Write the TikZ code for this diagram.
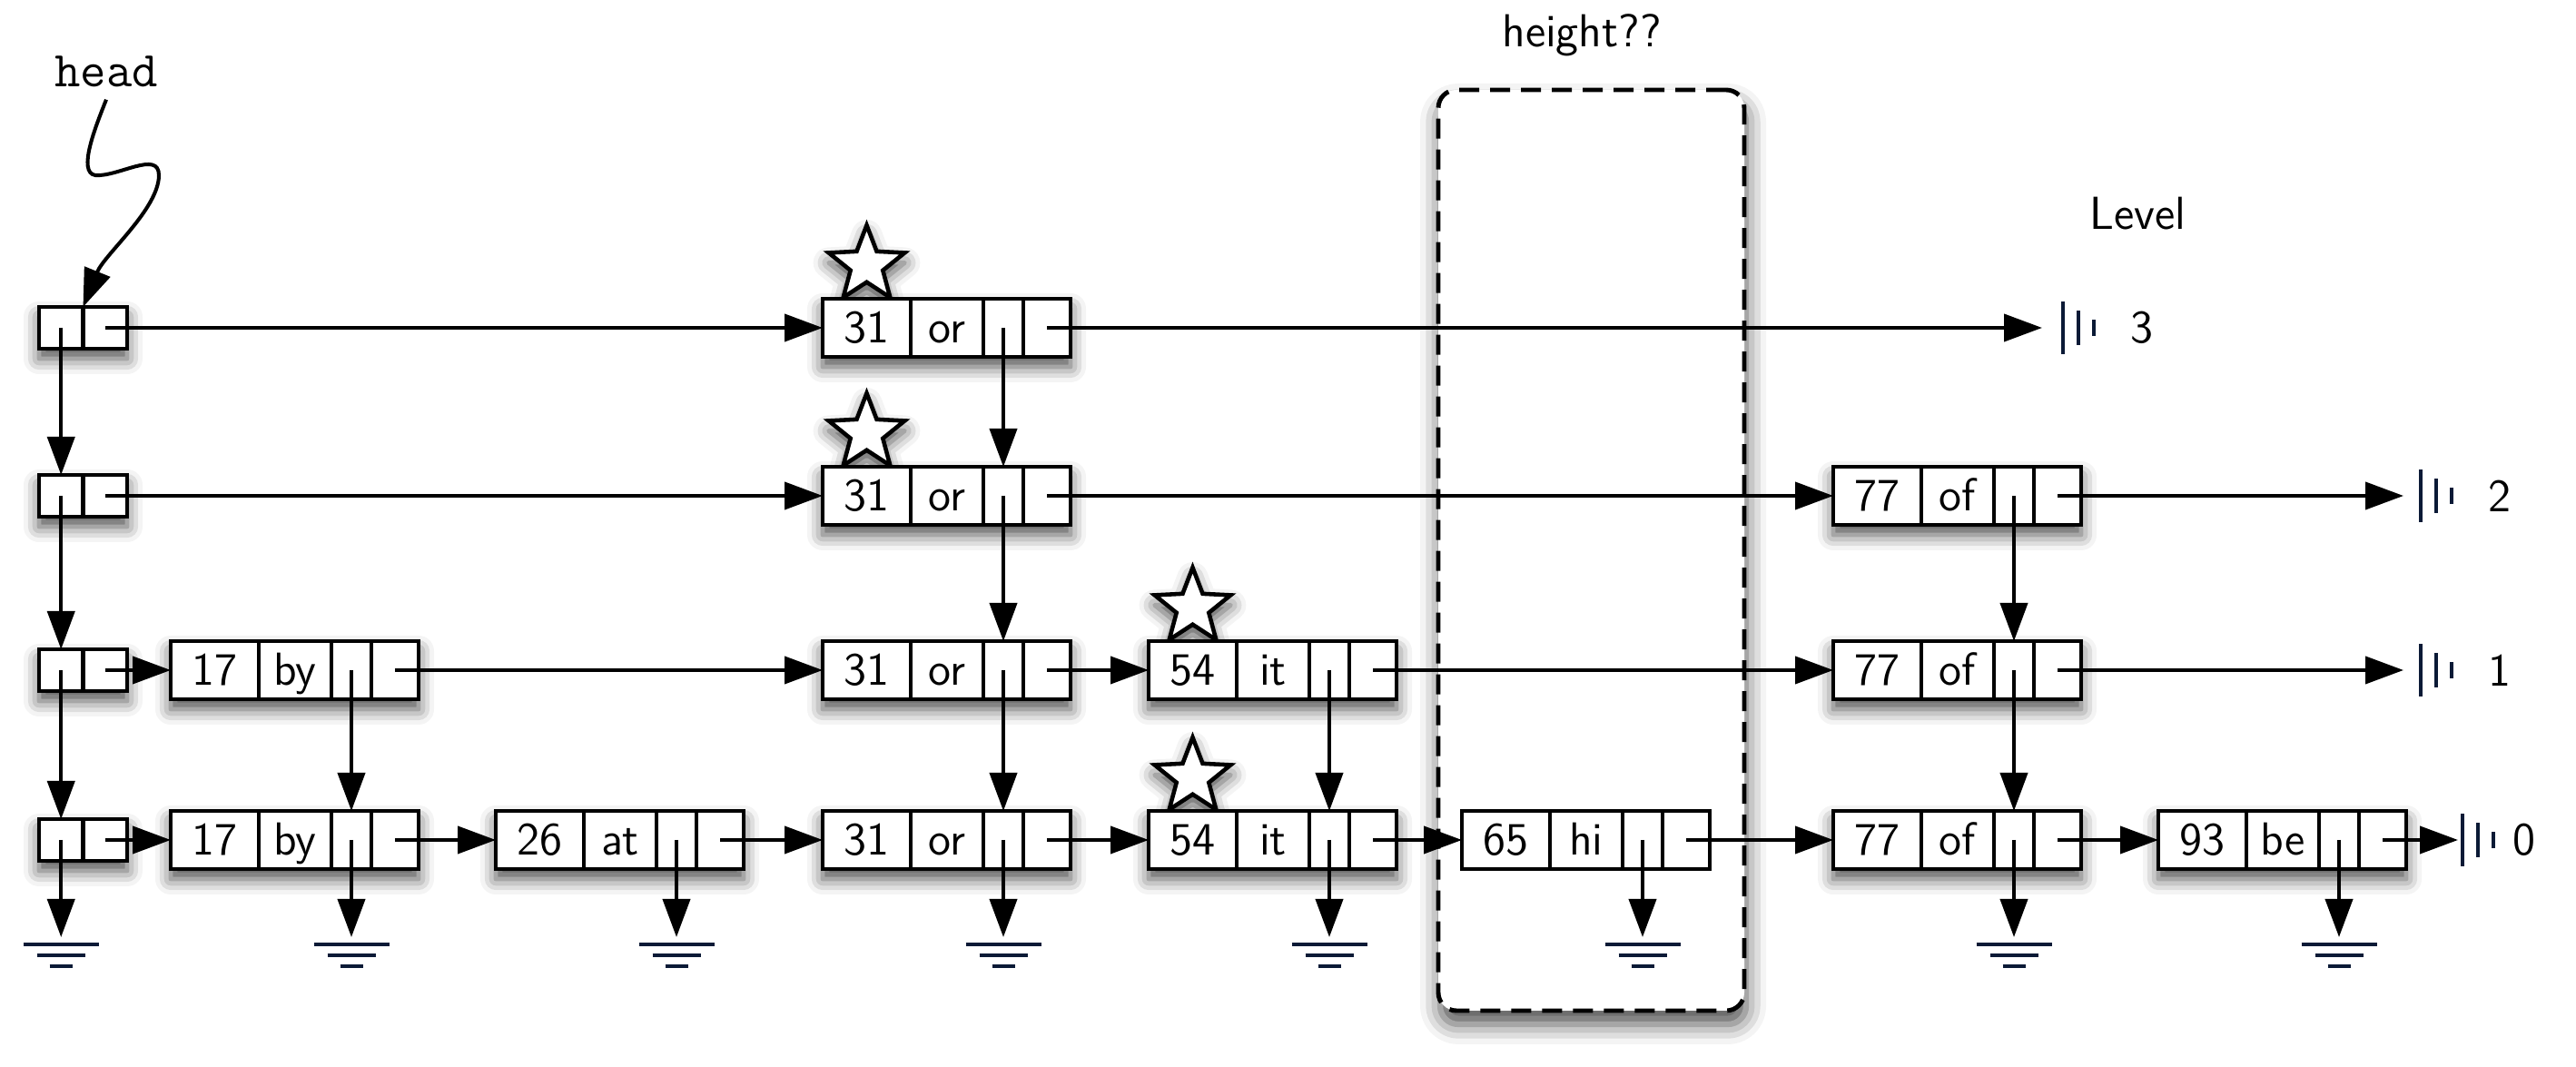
\documentclass[tikz,border=0pt]{standalone}
\usepackage{fontspec}
\usetikzlibrary{positioning, shapes.geometric, arrows.meta, shadows.blur}

\definecolor{groundblue}{HTML}{0B1A36}

\tikzset{
  every picture/.style={line width=1.15pt},
  shadowed/.style={blur shadow={shadow xshift=0cm, shadow yshift=-0.11cm, shadow blur radius=0.17cm, shadow opacity=70}},
  cell/.style={draw, fill=white, inner sep=0pt, outer sep=0pt, minimum height=0.64cm,
    text height=0.33cm, text depth=0pt, font=\fontsize{14.5}{16}\sffamily},
  keycell/.style={cell, minimum width=0.97cm},
  wordcell/.style={cell, minimum width=0.80cm},
  downcell/.style={cell, minimum width=0.44cm},
  nextcell/.style={cell, minimum width=0.52cm},
  headcell/.style={cell, minimum width=0.485cm, minimum height=0.46cm},
  recbox/.style={fill=white, inner sep=0pt, outer sep=0pt, minimum width=2.73cm, minimum height=0.64cm},
  headbox/.style={recbox, minimum width=0.97cm, minimum height=0.46cm},
  starmark/.style={star, star points=5, star point ratio=2.35, minimum size=0.88cm, inner sep=0pt,
    draw, line width=1.3pt, fill=white, shadowed},
  hbox/.style={draw, fill=white, rounded corners=0.2cm, line width=1.4pt, dash pattern=on 0.22cm off 0.12cm,
    minimum width=3.37cm, minimum height=10.14cm,
    blur shadow={shadow xshift=0.02cm, shadow yshift=-0.15cm, shadow blur radius=0.22cm, shadow opacity=70}},
  link/.style={-{Triangle[length=0.42cm,width=0.30cm]}},
  groundline/.style={draw=groundblue, line width=1.2pt},
  labeltext/.style={font=\fontsize{14.5}{16}\sffamily},
  headtext/.style={font=\fontsize{15.7}{18}\ttfamily}
}

% record: name, left x, y, key, word
\newcommand{\record}[6][shadowed]{%
  \node[recbox, #1, anchor=west] (#2) at (#3,#4) {};
  \node[keycell, anchor=west] (#2k) at (#2.west) {#5};
  \node[wordcell, right=0pt of #2k] (#2w) {#6};
  \node[downcell, right=0pt of #2w] (#2d) {};
  \node[nextcell, right=0pt of #2d] (#2r) {};
}
% head cell pair: name, y
\newcommand{\headnode}[2]{%
  \node[headbox, shadowed, anchor=west] (#1) at (0.43,#2) {};
  \node[headcell, anchor=west] (#1d) at (#1.west) {};
  \node[headcell, right=0pt of #1d] (#1r) {};
}
% end of a level: name, tip x, bar x, y, label, label x
\newcommand{\nilmark}[6]{%
  \coordinate (#1tip) at (#2,#4);
  \coordinate (#1) at (#3,#4);
  \draw[groundline] ([yshift=-0.29cm]#1) -- ([yshift=0.29cm]#1);
  \draw[groundline] ([xshift=0.17cm,yshift=-0.19cm]#1) -- ([xshift=0.17cm,yshift=0.19cm]#1);
  \draw[groundline] ([xshift=0.34cm,yshift=-0.09cm]#1) -- ([xshift=0.34cm,yshift=0.09cm]#1);
  \node[labeltext] (#1lbl) at (#6,#4) {#5};
}

\begin{document}
\begin{tikzpicture}
\useasboundingbox (0,0) rectangle (28.37,11.75);

% the new node whose height is not known yet
\node[hbox] (hbox) at (17.525,5.69) {};
\node[labeltext, anchor=base] (htlabel) at (17.42,11.23) {height??};
\node[labeltext] (levelhdr) at (23.54,9.40) {Level};

% heads
\headnode{head3}{8.14}
\headnode{head2}{6.29}
\headnode{head1}{4.37}
\headnode{head0}{2.50}

\node[headtext] (headlbl) at (1.17,10.96) {head};
\draw[link] (headlbl.south) .. controls (1.05,10.35) and (0.85,9.85) .. (1.05,9.82)
  .. controls (1.30,9.80) and (1.75,10.10) .. (1.75,9.82)
  .. controls (1.75,9.45) and (1.15,8.95) .. (head3.north);

% stars
\node[starmark] (star3) at (9.545,8.83) {};
\node[starmark] (star2) at (9.545,6.98) {};
\node[starmark] (star1) at (13.135,5.06) {};
\node[starmark] (star0) at (13.135,3.19) {};

% level 3
\record{or3}{9.06}{8.14}{31}{or}
% level 2
\record{or2}{9.06}{6.29}{31}{or}
\record{of2}{20.19}{6.29}{77}{of}
% level 1
\record{by1}{1.88}{4.37}{17}{by}
\record{or1}{9.06}{4.37}{31}{or}
\record{it1}{12.65}{4.37}{54}{it}
\record{of1}{20.19}{4.37}{77}{of}
% level 0
\record{by0}{1.88}{2.50}{17}{by}
\record{at0}{5.46}{2.50}{26}{at}
\record{or0}{9.06}{2.50}{31}{or}
\record{it0}{12.65}{2.50}{54}{it}
\record[]{hi0}{16.10}{2.50}{65}{hi}
\record{of0}{20.19}{2.50}{77}{of}
\record{be0}{23.77}{2.50}{93}{be}

% level ends
\nilmark{nil3}{22.49}{22.72}{8.14}{3}{23.59}
\nilmark{nil2}{26.47}{26.66}{6.29}{2}{27.53}
\nilmark{nil1}{26.47}{26.66}{4.37}{1}{27.53}
\nilmark{nil0}{27.07}{27.12}{2.50}{0}{27.80}

% forward links
\foreach \a/\b in {head3r/or3, head2r/or2, or2r/of2,
    head1r/by1, by1r/or1, or1r/it1, it1r/of1,
    head0r/by0, by0r/at0, at0r/or0, or0r/it0, it0r/hi0, hi0r/of0, of0r/be0}
  \draw[link] (\a.center) -- (\b.west);
\draw[link] (or3r.center) -- (nil3tip);
\draw[link] (of2r.center) -- (nil2tip);
\draw[link] (of1r.center) -- (nil1tip);
\draw[link] (be0r.center) -- (nil0tip);

% down links
\foreach \a/\b in {head3d/head2d, head2d/head1d, head1d/head0d,
    or3d/or2d, or2d/or1d, or1d/or0d, by1d/by0d, it1d/it0d, of2d/of1d, of1d/of0d}
  \draw[link] (\a.center) -- (\b.north);

% ground
\coordinate (gndlevel) at (0,1.43);
\foreach \c in {head0d, by0d, at0d, or0d, it0d, hi0d, of0d, be0d} {
  \coordinate (g\c) at (\c.center |- gndlevel);
  \draw[link] (\c.center) -- (g\c);
  \draw[groundline] ([xshift=-0.415cm,yshift=-0.08cm]g\c) -- ([xshift=0.415cm,yshift=-0.08cm]g\c);
  \draw[groundline] ([xshift=-0.265cm,yshift=-0.20cm]g\c) -- ([xshift=0.265cm,yshift=-0.20cm]g\c);
  \draw[groundline] ([xshift=-0.125cm,yshift=-0.32cm]g\c) -- ([xshift=0.125cm,yshift=-0.32cm]g\c);
}
\end{tikzpicture}
\end{document}
